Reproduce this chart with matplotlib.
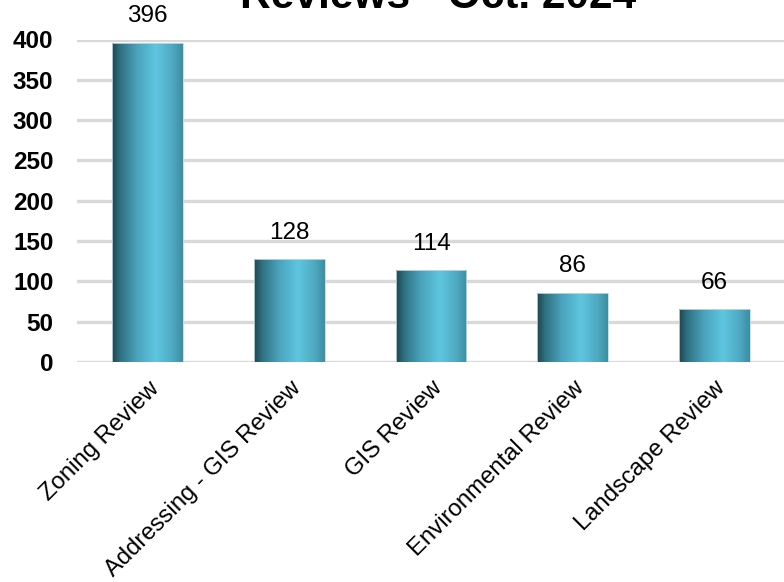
import numpy as np
import matplotlib
matplotlib.use("Agg")
import matplotlib.pyplot as plt
from matplotlib.colors import LinearSegmentedColormap

categories = ["Zoning Review", "Addressing - GIS Review", "GIS Review",
              "Environmental Review", "Landscape Review"]
values = [396, 128, 114, 86, 66]
yticks = [0, 50, 100, 150, 200, 250, 300, 350, 400]
title = "Reviews - Oct. 2024"

plt.rcParams['font.family'] = ['Liberation Sans', 'DejaVu Sans']

fig = plt.figure(figsize=(7.84, 5.82), dpi=100)
ax = fig.add_axes([77/784, 1 - 362/582, (785-77)/784, (362-39.5)/582])

ax.set_ylim(0, 400)
ax.set_xlim(-0.5, 4.5)

cmap = LinearSegmentedColormap.from_list("bar", [
    (0.0, "#1e4650"), (0.12, "#2f7282"), (0.35, "#4aa3bb"),
    (0.62, "#5fc6e0"), (0.85, "#4eaac2"), (1.0, "#3d8ea3")])
grad = np.linspace(0, 1, 256).reshape(1, -1)

width = 0.5
bars = ax.bar(range(len(values)), values, width=width, color="none",
              edgecolor="#c8d8dc", linewidth=0.6, zorder=3)
for b in bars:
    x0, y0 = b.get_x(), b.get_y()
    w, h = b.get_width(), b.get_height()
    im = ax.imshow(grad, cmap=cmap, aspect="auto",
                   extent=[x0, x0 + w, y0, y0 + h], zorder=2)
    im.set_clip_path(b)

for i, v in enumerate(values):
    ax.annotate(str(v), (i, v), xytext=(0, 11), textcoords="offset points",
                ha="center", va="bottom", fontsize=17.5, color="black",
                zorder=4)

ax.set_yticks(yticks)
ax.set_yticklabels([str(t) for t in yticks], fontsize=17.5, fontweight="bold")
ax.yaxis.grid(True, color="#d9d9d9", linewidth=2.4, zorder=0)
ax.set_axisbelow(True)
ax.tick_params(axis="y", length=0, pad=17)
ax.tick_params(axis="x", length=0, pad=11)

ax.set_xticks(range(len(categories)))
ax.set_xticklabels(categories, rotation=45, ha="right",
                   rotation_mode="anchor", fontsize=17.2)
for s in ax.spines.values():
    s.set_visible(False)

fig.text(438/784, 1 - 8/582, title, ha="center", va="baseline",
         fontsize=30.5, fontweight="bold")

fig.savefig("out.png", dpi=100)
